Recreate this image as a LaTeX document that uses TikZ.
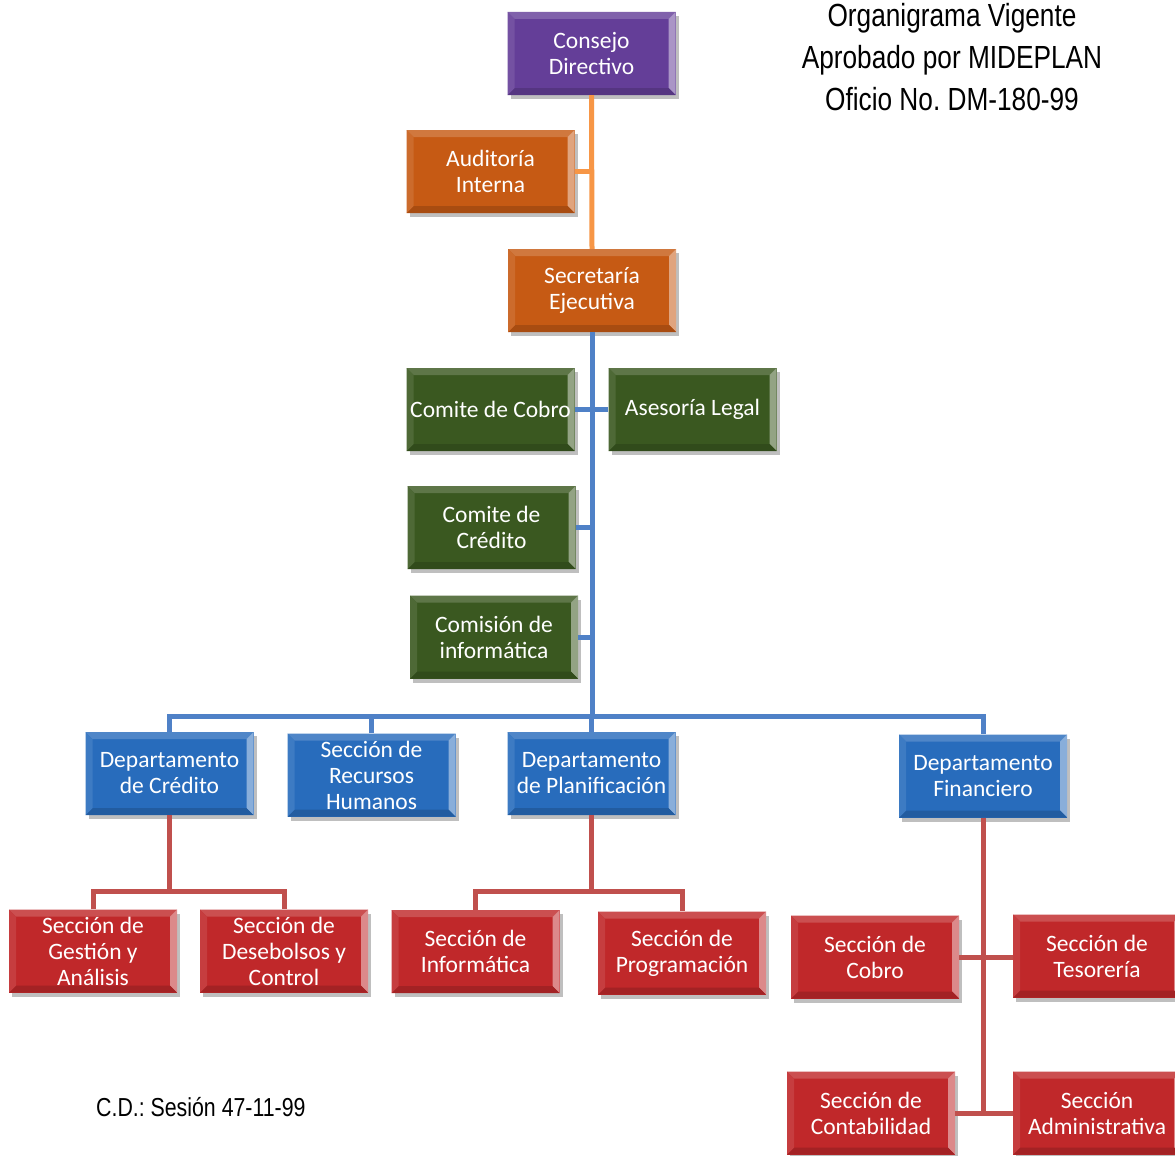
\documentclass[tikz,border=0pt]{standalone}
\usepackage{fontspec}
\setmainfont{Carlito}
\newfontfamily\narrowfont[FakeStretch=0.82]{Liberation Sans}
\usetikzlibrary{shadows}
\frenchspacing
\definecolor{cpurple}{RGB}{100,62,152}
\definecolor{corange}{RGB}{198,90,20}
\definecolor{cgreen}{RGB}{58,88,32}
\definecolor{cblue}{RGB}{40,108,188}
\definecolor{cred}{RGB}{192,40,42}
\definecolor{lorange}{RGB}{247,150,70}
\definecolor{lblue}{RGB}{79,129,199}
\definecolor{lred}{RGB}{192,80,77}
\begin{document}
\begin{tikzpicture}[x=1pt,y=-1pt,
  orgbox/.style={rectangle, minimum width=168pt, minimum height=83pt, inner sep=2pt,
    align=center, text=white, font=\fontsize{23.5}{26}\selectfont, fill=#1,
    drop shadow={shadow xshift=3pt,shadow yshift=-4pt,opacity=0.25,fill=black},
    path picture={
      \coordinate (qa) at (path picture bounding box.north west);
      \coordinate (qb) at (path picture bounding box.north east);
      \coordinate (qc) at (path picture bounding box.south east);
      \coordinate (qd) at (path picture bounding box.south west);
      \fill[#1!82!white] (qa) -- (qb) -- ([shift={(-7pt,-7pt)}]qb) -- ([shift={(7pt,-7pt)}]qa) -- cycle;
      \fill[#1!55!white] (qb) -- (qc) -- ([shift={(-7pt,7pt)}]qc) -- ([shift={(-7pt,-7pt)}]qb) -- cycle;
      \fill[#1!85!black] (qc) -- (qd) -- ([shift={(7pt,7pt)}]qd) -- ([shift={(-7pt,7pt)}]qc) -- cycle;
      \fill[#1!90!white] (qd) -- (qa) -- ([shift={(7pt,-7pt)}]qa) -- ([shift={(7pt,7pt)}]qd) -- cycle;
    }},
  oline/.style={draw=lorange, line width=5pt},
  bline/.style={draw=lblue, line width=5pt},
  rline/.style={draw=lred, line width=5pt},
  titletext/.style={align=center, font=\narrowfont\fontsize{32}{42}\selectfont, text=black},
  notetext/.style={anchor=west, font=\narrowfont\fontsize{26}{30}\selectfont, text=black, inner sep=0pt}
]
\useasboundingbox[fill=white] (0,0) rectangle (1175,1156);

% nodes
\node[orgbox=cpurple] (cd) at (591.5,53.5) {Consejo\\Directivo};
\node[orgbox=corange] (ai) at (490.5,171.5) {Auditoría\\Interna};
\node[orgbox=corange] (se) at (592,290.5) {Secretaría\\Ejecutiva};
\node[orgbox=cgreen] (cc) at (490.5,409.5) {Comite de Cobro};
\node[orgbox=cgreen] (al) at (692.5,409.5) {Asesoría Legal};
\node[orgbox=cgreen] (ccr) at (491.5,527.5) {Comite de\\Crédito};
\node[orgbox=cgreen] (ci) at (494,637) {Comisión de\\informática};
\node[orgbox=cblue] (dc) at (169.5,773.5) {Departamento\\de Crédito};
\node[orgbox=cblue] (rh) at (371.5,775) {Sección de\\Recursos\\Humanos};
\node[orgbox=cblue] (dp) at (591.5,773.5) {Departamento\\de Planificación};
\node[orgbox=cblue] (df) at (983,776) {Departamento\\Financiero};
\node[orgbox=cred] (sg) at (93,951) {Sección de\\Gestión y\\Análisis};
\node[orgbox=cred] (sd) at (284,951) {Sección de\\Desebolsos y\\Control};
\node[orgbox=cred] (si) at (475.5,951.5) {Sección de\\Informática};
\node[orgbox=cred] (sp) at (682,953) {Sección de\\Programación};
\node[orgbox=cred] (sco) at (875,957) {Sección de\\Cobro};
\node[orgbox=cred] (ste) at (1097,956) {Sección de\\Tesorería};
\node[orgbox=cred] (sct) at (871,1113) {Sección de\\Contabilidad};
\node[orgbox=cred] (sad) at (1097,1113) {Sección\\Administrativa};

\node[titletext] (title) at (952,57) {Organigrama Vigente\\Aprobado por MIDEPLAN\\Oficio No. DM-180-99};
\node[notetext] (note) at (96,1107) {C.D.: Sesión 47-11-99};

% orange connectors
\draw[oline] (cd.south) -- (se.north);
\draw[oline] (ai.east) -- (ai.east -| cd.south);

% blue connectors
\coordinate (bh) at (592,716);
\draw[bline] (se.south) -- (bh);
\draw[bline] (cc.east) -- (al.west);
\draw[bline] (ccr.east) -- (ccr.east -| se.south);
\draw[bline] (ci.east) -- (ci.east -| se.south);
\draw[bline] (dc.north) -- (dc.north |- bh) -- (df.north |- bh) -- (df.north);
\draw[bline] (rh.north) -- (rh.north |- bh);
\draw[bline] (dp.north) -- (dp.north |- bh);

% red connectors
\coordinate (rj) at (169,891);
\draw[rline] (dc.south) -- (dc.south |- rj);
\draw[rline] (sg.north) -- (sg.north |- rj) -- (sd.north |- rj) -- (sd.north);
\draw[rline] (dp.south) -- (dp.south |- rj);
\draw[rline] (si.north) -- (si.north |- rj) -- (sp.north |- rj) -- (sp.north);
\draw[rline] (df.south) -- (df.south |- sad.west);
\draw[rline] (sco.east) -- (sco.east -| ste.west);
\draw[rline] (sct.east) -- (sct.east -| sad.west);
\end{tikzpicture}
\end{document}
